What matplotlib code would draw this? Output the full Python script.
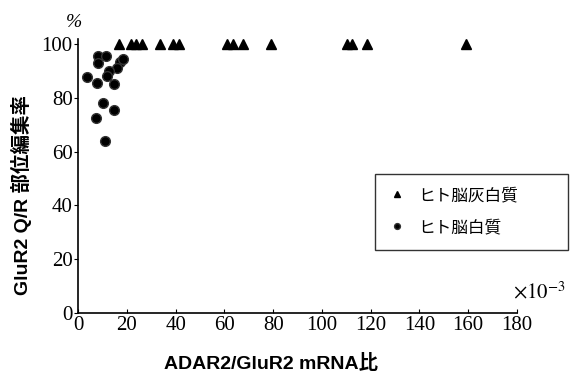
import matplotlib.pyplot as plt

# ヒト脳灰白質 (gray matter) - all at 100%
gray_x = [16.9, 21.6, 23.8, 26.1, 33.6, 39.1, 41.5, 60.9, 63.6, 67.7, 79.1, 110.1, 112.2, 118.3, 159.0]
gray_y = [100] * len(gray_x)

# ヒト脳白質 (white matter)
white_x = [8.3, 11.5, 8.3, 17.2, 18.5, 16.1, 12.8, 12.0, 3.8, 7.7, 14.9, 10.4, 14.9, 7.4, 11.1]
white_y = [95.6, 95.5, 92.8, 93.4, 94.3, 91.0, 90.1, 87.9, 87.6, 85.6, 85.1, 78.1, 75.3, 72.3, 63.8]

xticks = [0, 20, 40, 60, 80, 100, 120, 140, 160, 180]
yticks = [0, 20, 40, 60, 80, 100]

jp = ['Noto Sans CJK JP', 'DejaVu Sans']
lab = ['Liberation Sans', 'Noto Sans CJK JP']
serif = 'Liberation Serif'

fig = plt.figure(figsize=(5.7, 3.78), dpi=100)
ax = fig.add_axes([0.137, 0.172, 0.77, 0.726])

ax.plot(gray_x, gray_y, linestyle='none', marker='^', color='black', markersize=7,
        label='ヒト脳灰白質')
ax.plot(white_x, white_y, linestyle='none', marker='o', color='black', markersize=7,
        markeredgecolor='#333333', label='ヒト脳白質')

ax.set_xlim(0, 180)
ax.set_ylim(0, 102)
ax.set_xticks(xticks)
ax.set_yticks(yticks)
ax.tick_params(axis='x', direction='in', length=3, pad=2)
ax.tick_params(axis='y', direction='out', length=3, pad=1)
for lbl in ax.get_xticklabels() + ax.get_yticklabels():
    lbl.set_fontfamily(serif)
    lbl.set_fontsize(15)

for s in ['top', 'right']:
    ax.spines[s].set_visible(False)
for s in ['left', 'bottom']:
    ax.spines[s].set_linewidth(1.2)

ax.set_xlabel('ADAR2/GluR2 mRNA比', family=lab, fontsize=14, fontweight='bold')
ax.set_ylabel('GluR2 Q/R 部位編集率', family=lab, fontsize=14, fontweight='bold')
ax.xaxis.set_label_coords(0.44, -0.148)
ax.yaxis.set_label_coords(-0.105, 0.43)

fig.text(0.13, 0.94, '%', fontfamily=serif, fontsize=14, style='italic', ha='center', va='center')
fig.text(0.992, 0.228, r'$\times 10^{-3}$', fontsize=15, ha='right', va='center',
         math_fontfamily='stix')

leg = fig.legend(loc='upper left', bbox_to_anchor=(0.658, 0.44, 0.339, 0.1), mode='expand',
                 prop={'family': jp, 'size': 12}, frameon=True, fancybox=False,
                 edgecolor='black', handlelength=1.0, markerscale=0.6, labelspacing=0.9,
                 borderpad=0.8, handletextpad=0.8, borderaxespad=0)
leg.get_frame().set_linewidth(1.0)

fig.savefig('out.png', dpi=100)
